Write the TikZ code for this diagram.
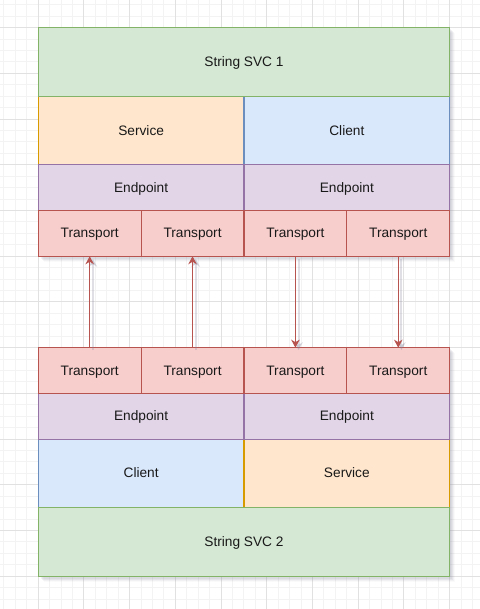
\documentclass[tikz,border=0pt]{standalone}
\usepackage{fontspec}
\setmainfont{Liberation Sans}
\usetikzlibrary{arrows.meta}

\definecolor{gfill}{HTML}{D5E8D4}\definecolor{gline}{HTML}{82B366}
\definecolor{ofill}{HTML}{FFE6CC}\definecolor{oline}{HTML}{D79B00}
\definecolor{bfill}{HTML}{DAE8FC}\definecolor{bline}{HTML}{6C8EBF}
\definecolor{pfill}{HTML}{E1D5E7}\definecolor{pline}{HTML}{9673A6}
\definecolor{rfill}{HTML}{F8CECC}\definecolor{rline}{HTML}{B85450}
\definecolor{gridminor}{HTML}{F3F3F3}\definecolor{gridmajor}{HTML}{E1E1E1}
\definecolor{shadowc}{HTML}{80809A}

\begin{document}
\begin{tikzpicture}[x=1.1428pt, y=-1.1428pt,
  cell/.style 2 args={draw, line width=1.1pt, inner sep=0pt, outer sep=0pt,
    anchor=north west, minimum width=#1*1.1428pt, minimum height=#2*1.1428pt,
    text height=9.8pt, text depth=0.8pt,
    font=\fontsize{13.7}{16}\selectfont, text=black!90},
  green/.style={fill=gfill, draw=gline},
  orange/.style={fill=ofill, draw=oline},
  blue/.style={fill=bfill, draw=bline},
  purple/.style={fill=pfill, draw=pline},
  red/.style={fill=rfill, draw=rline},
  tip/.style={-{Stealth[length=8pt, width=8.5pt, inset=2.5pt]}},
  link/.style={draw=rline, line width=1.1pt, tip},
  linkshadow/.style={draw=shadowc, opacity=0.25, line width=2pt,
    transform canvas={xshift=3.2pt, yshift=-2.5pt}, tip}]

% page and background grid
\useasboundingbox (-33.5,-24.24) rectangle (386.5,508.67);
\fill[white] (-33.5,-24.24) rectangle (386.5,508.67);
\foreach \gx in {-30,-20,...,380}
  \draw[gridminor, line width=1pt] (\gx,-24.24) -- (\gx,508.67);
\foreach \gy in {-20,-10,...,500}
  \draw[gridminor, line width=1pt] (-33.5,\gy) -- (386.5,\gy);
\foreach \gx in {0,40,...,360}
  \draw[gridmajor, line width=1pt] (\gx,-24.24) -- (\gx,508.67);
\foreach \gy in {0,40,...,480}
  \draw[gridmajor, line width=1pt] (-33.5,\gy) -- (386.5,\gy);

% soft shadows under both stacks
\foreach \d/\op in {1/0.10,2/0.10,3/0.10,4/0.07,5/0.04} {
  \fill[shadowc, opacity=\op] (\d,\d) rectangle (360+\d,200+\d);
  \fill[shadowc, opacity=\op] (\d,280+\d) rectangle (360+\d,480+\d);
}

% upper stack
\node[cell={180}{60}, orange] (svc1) at (0,60) {Service};
\node[cell={180}{60}, blue] (cli1) at (180,60) {Client};
\node[cell={360}{60}, green] (str1) at (0,0) {String SVC 1};
\node[cell={180}{40}, purple] (ep1a) at (0,120) {Endpoint};
\node[cell={180}{40}, purple] (ep1b) at (180,120) {Endpoint};
\node[cell={90}{40}, red] (t1a) at (0,160) {Transport};
\node[cell={90}{40}, red] (t1b) at (90,160) {Transport};
\node[cell={90}{40}, red] (t1c) at (180,160) {Transport};
\node[cell={90}{40}, red] (t1d) at (270,160) {Transport};

% lower stack
\node[cell={180}{60}, blue] (cli2) at (0,360) {Client};
\node[cell={180}{60}, orange] (svc2) at (180,360) {Service};
\node[cell={180}{40}, purple] (ep2a) at (0,320) {Endpoint};
\node[cell={180}{40}, purple] (ep2b) at (180,320) {Endpoint};
\node[cell={360}{60}, green] (str2) at (0,420) {String SVC 2};
\node[cell={90}{40}, red] (t2a) at (0,280) {Transport};
\node[cell={90}{40}, red] (t2b) at (90,280) {Transport};
\node[cell={90}{40}, red] (t2c) at (180,280) {Transport};
\node[cell={90}{40}, red] (t2d) at (270,280) {Transport};

% transport links
\foreach \s/\e in {t2a/t1a, t2b/t1b, t1c/t2c, t1d/t2d} {
  \draw[linkshadow] (\s) -- (\e);
}
\draw[link] (t2a) -- (t1a);
\draw[link] (t2b) -- (t1b);
\draw[link] (t1c) -- (t2c);
\draw[link] (t1d) -- (t2d);
\end{tikzpicture}
\end{document}
